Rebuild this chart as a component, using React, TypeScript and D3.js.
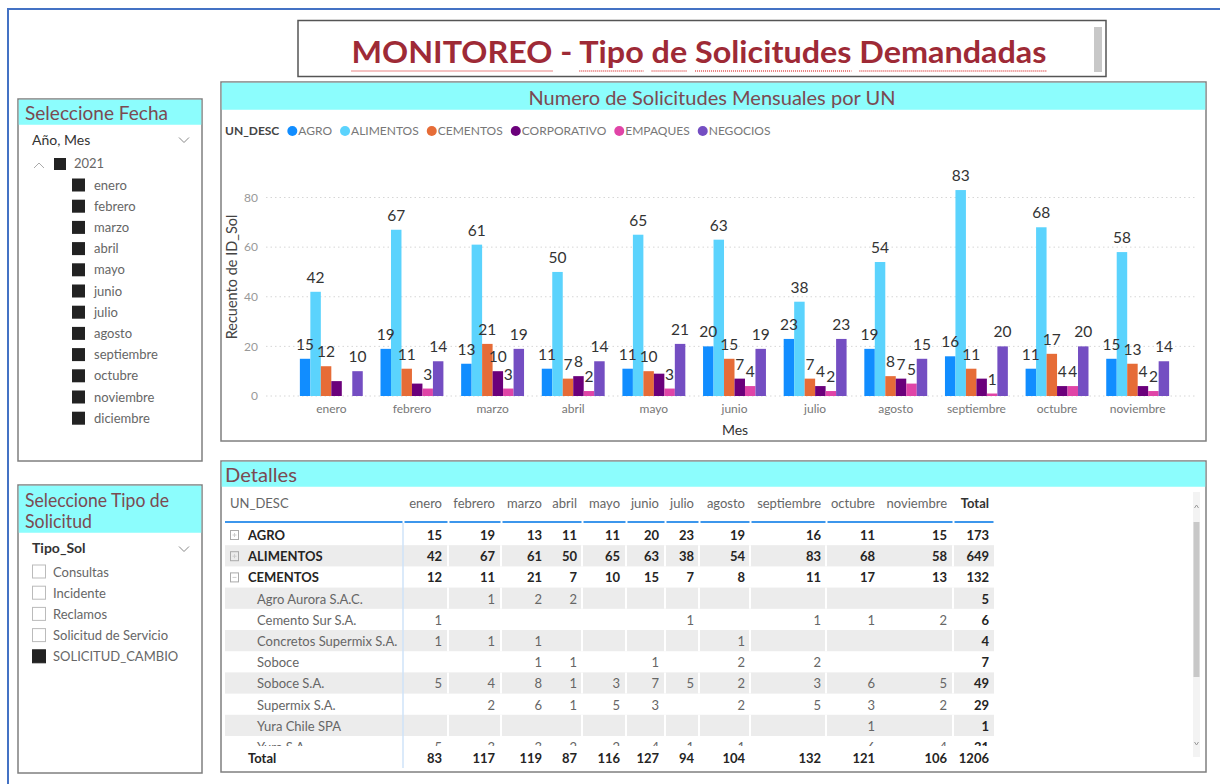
import React, { useEffect, useRef } from 'react'
import * as d3 from 'd3'

// meses del grafico
const months = ['enero', 'febrero', 'marzo', 'abril', 'mayo', 'junio', 'julio', 'agosto', 'septiembre', 'octubre', 'noviembre']
const slicerMonths = [...months, 'diciembre']
const tipoSol = ['Consultas', 'Incidente', 'Reclamos', 'Solicitud de Servicio', 'SOLICITUD_CAMBIO']

const units = ['AGRO', 'ALIMENTOS', 'CEMENTOS', 'CORPORATIVO', 'EMPAQUES', 'NEGOCIOS']
const unitColors = ['#118DFF', '#5BD3FD', '#E66C37', '#6B007B', '#E044A7', '#744EC2']

const agro = [15, 19, 13, 11, 11, 20, 23, 19, 16, 11, 15]
const alimentos = [42, 67, 61, 50, 65, 63, 38, 54, 83, 68, 58]
const cementos = [12, 11, 21, 7, 10, 15, 7, 8, 11, 17, 13]
const corporativo = [6, 5, 10, 8, 9, 7, 4, 7, 7, 4, 4]
const empaques = [0, 3, 3, 2, 3, 4, 2, 5, 1, 4, 2]
const negocios = [10, 14, 19, 14, 21, 19, 23, 15, 20, 20, 14]
const seriesValues = [agro, alimentos, cementos, corporativo, empaques, negocios]

// etiquetas que Power BI oculta por solapamiento
const hiddenLabels = ['CORPORATIVO|enero', 'CORPORATIVO|febrero', 'CORPORATIVO|mayo', 'CORPORATIVO|septiembre']

// tabla de detalles (CEMENTOS expandido)
const clientNames = ['Agro Aurora S.A.C.', 'Cemento Sur S.A.', 'Concretos Supermix S.A.', 'Soboce', 'Soboce S.A.', 'Supermix S.A.', 'Yura Chile SPA', 'Yura S.A.']
const agroAurora = [null, 1, 2, 2, null, null, null, null, null, null, null]
const cementoSur = [1, null, null, null, null, null, 1, null, 1, 1, 2]
const concretosSupermix = [1, 1, 1, null, null, null, null, 1, null, null, null]
const soboce = [null, null, 1, 1, null, 1, null, 2, 2, null, null]
const soboceSA = [5, 4, 8, 1, 3, 7, 5, 2, 3, 6, 5]
const supermixSA = [null, 2, 6, 1, 5, 3, null, 2, 5, 3, 2]
const yuraChile = [null, null, null, null, null, null, null, null, null, 1, null]
const yuraSA = [5, 3, 3, 2, 2, 4, 1, 1, null, 6, 4]
const clientValues = [agroAurora, cementoSur, concretosSupermix, soboce, soboceSA, supermixSA, yuraChile, yuraSA]
const columnTotals = [83, 117, 119, 87, 116, 127, 94, 104, 132, 121, 106]
const grandTotal = 1206

const font = 'Lato, "Segoe UI", sans-serif'
const cyan = '#8CFDFD'
const headColor = '#7B4A52'

const App = () => {
  const svgRef = useRef(null)

  useEffect(() => {
    d3.select(svgRef.current).selectAll('*').remove()
    const svg = d3.select(svgRef.current).attr('width', 1220).attr('height', 784).style('font-family', font)

    svg.append('rect').attr('width', 1220).attr('height', 784).attr('fill', '#fff')

    // marco azul
    svg.append('path').attr('d', 'M8,784 L8,9 L1220,9').attr('fill', 'none').attr('stroke', '#4472C4').attr('stroke-width', 2)

    // titulo
    svg.append('rect').attr('x', 298).attr('y', 20.5).attr('width', 808).attr('height', 56)
      .attr('fill', '#fff').attr('stroke', '#555').attr('stroke-width', 1.5)
    svg.append('rect').attr('x', 1094).attr('y', 27).attr('width', 8).attr('height', 45).attr('fill', '#c8c8c8')
    const title = svg.append('text').attr('x', 699).attr('y', 63).attr('text-anchor', 'middle')
      .attr('font-size', 31).attr('font-weight', 700).attr('fill', '#9E2A36')
      .attr('textLength', 695).attr('lengthAdjust', 'spacingAndGlyphs')
      .text('MONITOREO - Tipo de Solicitudes Demandadas')
    // subrayado del corrector
    const tNode: any = title.node()
    const str = 'MONITOREO - Tipo de Solicitudes Demandadas'
    let idx = 0
    str.split(' ').forEach((w) => {
      if (w !== '-') {
        try {
          const a = tNode.getExtentOfChar(idx)
          const b = tNode.getExtentOfChar(idx + w.length - 1)
          svg.append('line').attr('x1', a.x).attr('x2', b.x + b.width).attr('y1', 71).attr('y2', 71)
            .attr('stroke', '#E25A5A').attr('stroke-width', 1.5).attr('stroke-dasharray', '1,1')
        } catch (e) {}
      }
      idx += w.length + 1
    })

    const panel = (x, y, w, h, hh) => {
      svg.append('rect').attr('x', x).attr('y', y).attr('width', w).attr('height', h)
        .attr('fill', '#fff').attr('stroke', '#7f7f7f').attr('stroke-width', 1.5)
      svg.append('rect').attr('x', x + 0.75).attr('y', y + 0.75).attr('width', w - 1.5).attr('height', hh).attr('fill', cyan)
    }
    const header = (x, y, txt, size, len, anchor = 'start') => {
      svg.append('text').attr('x', x).attr('y', y).attr('font-size', size).attr('fill', headColor)
        .attr('text-anchor', anchor).attr('textLength', len).attr('lengthAdjust', 'spacingAndGlyphs').text(txt)
    }
    const chevron = (x, y) => {
      svg.append('path').attr('d', `M${x - 5},${y - 2.5} L${x},${y + 2.5} L${x + 5},${y - 2.5}`)
        .attr('fill', 'none').attr('stroke', '#888').attr('stroke-width', 1)
    }

    // slicer fecha
    panel(18, 99, 184, 362, 25)
    header(25, 120, 'Seleccione Fecha', 20, 143)
    svg.append('text').attr('x', 32).attr('y', 145).attr('font-size', 14).attr('fill', '#333').text('Año, Mes')
    chevron(184, 140)
    svg.append('path').attr('d', 'M34,168 L39,163 L44,168').attr('fill', 'none').attr('stroke', '#aaa').attr('stroke-width', 1)
    svg.append('rect').attr('x', 54).attr('y', 158).attr('width', 12).attr('height', 12).attr('fill', '#222')
    svg.append('text').attr('x', 74).attr('y', 168).attr('font-size', 13).attr('fill', '#666').text('2021')
    const sm = svg.append('g')
    slicerMonths.forEach((m, i) => {
      const cy = 185 + i * 21.2
      sm.append('rect').attr('x', 72).attr('y', cy - 6.5).attr('width', 13).attr('height', 13).attr('fill', '#222')
      sm.append('text').attr('x', 94).attr('y', cy + 4.5).attr('font-size', 13).attr('fill', '#666').text(m)
    })

    // slicer tipo
    panel(18, 485, 184, 288, 47)
    header(25, 507, 'Seleccione Tipo de', 20, 144)
    header(25, 528, 'Solicitud', 20, 67)
    svg.append('text').attr('x', 32).attr('y', 553).attr('font-size', 14).attr('font-weight', 700).attr('fill', '#333').text('Tipo_Sol')
    chevron(184, 549)
    tipoSol.forEach((t, i) => {
      const cy = 572 + i * 21.2
      const sel = i === tipoSol.length - 1
      svg.append('rect').attr('x', 32.5).attr('y', cy - 7).attr('width', 13).attr('height', 13)
        .attr('fill', sel ? '#222' : '#fff').attr('stroke', sel ? '#222' : '#bbb')
      svg.append('text').attr('x', 53).attr('y', cy + 4.5).attr('font-size', 13).attr('fill', '#666').text(t)
    })

    // grafico de barras
    panel(221, 82, 985, 359, 27)
    header(712, 105, 'Numero de Solicitudes Mensuales por UN', 20, 367, 'middle')

    const leg = svg.append('g').attr('font-size', 12)
    const lt = leg.append('text').attr('x', 225).attr('y', 135).attr('font-weight', 700).attr('fill', '#444').text('UN_DESC')
    let cursor = 225 + (lt.node() as any).getComputedTextLength()
    units.forEach((u, i) => {
      leg.append('circle').attr('cx', cursor + 13).attr('cy', 131).attr('r', 5).attr('fill', unitColors[i])
      const t = leg.append('text').attr('x', cursor + 19).attr('y', 135).attr('fill', '#777').text(u)
      cursor = cursor + 19 + (t.node() as any).getComputedTextLength()
    })

    const x0 = d3.scaleBand().domain(months).range([291, 1178]).paddingInner(0.22).paddingOuter(0.11)
    const x1 = d3.scaleBand().domain(units).range([0, x0.bandwidth()])
    const y = d3.scaleLinear().domain([0, 80]).range([396, 197.5])
    const color = d3.scaleOrdinal().domain(units).range(unitColors)

    svg.append('g').selectAll('line').data(y.ticks(4)).enter().append('line')
      .attr('x1', 266).attr('x2', 1197).attr('y1', (d) => y(d)).attr('y2', (d) => y(d))
      .attr('stroke', '#d6d6d6').attr('stroke-dasharray', '1.5,3')

    const yAxis = svg.append('g').attr('transform', 'translate(262,0)')
      .call(d3.axisLeft(y).ticks(4).tickSize(0).tickPadding(4))
    yAxis.select('.domain').remove()
    yAxis.selectAll('text').attr('fill', '#999').attr('font-size', 12).attr('font-family', font)

    const xAxis = svg.append('g').attr('transform', 'translate(0,396)')
      .call(d3.axisBottom(x0).tickSize(0).tickPadding(8.5))
    xAxis.select('.domain').remove()
    xAxis.selectAll('text').attr('fill', '#777').attr('font-size', 12).attr('font-family', font)

    svg.append('text').attr('x', 735).attr('y', 435).attr('text-anchor', 'middle')
      .attr('font-size', 14).attr('fill', '#333').text('Mes')
    svg.append('text').attr('transform', 'translate(237,277) rotate(-90)').attr('text-anchor', 'middle')
      .attr('font-size', 14.5).attr('fill', '#444').text('Recuento de ID_Sol')

    const bars = []
    months.forEach((m, mi) => {
      units.forEach((u, ui) => {
        bars.push({ month: m, unit: u, value: seriesValues[ui][mi] })
      })
    })

    const groups = svg.append('g')
    groups.selectAll('rect').data(bars).enter().append('rect')
      .attr('x', (d) => x0(d.month) + x1(d.unit))
      .attr('y', (d) => y(d.value))
      .attr('width', x1.bandwidth())
      .attr('height', (d) => y(0) - y(d.value))
      .attr('fill', (d) => color(d.unit))

    groups.selectAll('text').data(bars.filter((d) => d.value > 0 && !hiddenLabels.includes(`${d.unit}|${d.month}`)))
      .enter().append('text')
      .attr('x', (d) => x0(d.month) + x1(d.unit) + x1.bandwidth() / 2)
      .attr('y', (d) => y(d.value) - 9)
      .attr('text-anchor', 'middle').attr('font-size', 15.5).attr('fill', '#333')
      .text((d) => d.value)

    // tabla detalles
    panel(221, 461, 985, 311, 25)
    header(225, 482, 'Detalles', 20, 72)

    const colRight = [442, 495, 542, 577, 620, 659, 694, 745, 821, 875, 947, 989]
    const colSep = [403, 448, 501, 582, 626, 665, 699, 750, 826, 953]
    const tLeft = 225
    const tRight = 994
    const rowTop = 524
    const rowH = 21.2

    const tb = svg.append('g').attr('font-size', 13)
    tb.append('text').attr('x', 230).attr('y', 508).attr('fill', '#666').text('UN_DESC')
    months.forEach((m, i) => {
      tb.append('text').attr('x', colRight[i]).attr('y', 508).attr('text-anchor', 'end').attr('fill', '#666').text(m)
    })
    tb.append('text').attr('x', colRight[11]).attr('y', 508).attr('text-anchor', 'end')
      .attr('font-weight', 700).attr('fill', '#333').text('Total')

    const edges = [tLeft, ...colSep, tRight]
    for (let i = 0; i < edges.length - 1; i++) {
      tb.append('line').attr('x1', edges[i] + (i ? 1.5 : 0)).attr('x2', edges[i + 1] - 0.5)
        .attr('y1', 522).attr('y2', 522).attr('stroke', '#3C96EC').attr('stroke-width', 2)
    }

    const rows = [
      { name: 'AGRO', values: agro, level: 0, icon: 'plus' },
      { name: 'ALIMENTOS', values: alimentos, level: 0, icon: 'plus' },
      { name: 'CEMENTOS', values: cementos, level: 0, icon: 'minus' },
      ...clientNames.map((n, i) => ({ name: n, values: clientValues[i], level: 1, icon: null })),
    ]

    svg.append('clipPath').attr('id', 'bodyClip').append('rect')
      .attr('x', 221).attr('y', rowTop).attr('width', 800).attr('height', 746 - rowTop)
    const body = tb.append('g').attr('clip-path', 'url(#bodyClip)')

    rows.forEach((r, i) => {
      const top = rowTop + i * rowH
      const base = top + 16
      if (i % 2 === 1) {
        body.append('rect').attr('x', tLeft).attr('y', top).attr('width', tRight - tLeft).attr('height', rowH).attr('fill', '#ececec')
        colSep.slice(1).forEach((sx) => {
          body.append('line').attr('x1', sx).attr('x2', sx).attr('y1', top).attr('y2', top + rowH).attr('stroke', '#fff').attr('stroke-width', 2)
        })
      }
      const main = r.level === 0
      if (r.icon) {
        body.append('rect').attr('x', 230.5).attr('y', top + 6.5).attr('width', 8).attr('height', 9)
          .attr('fill', 'none').attr('stroke', '#aaa')
        body.append('line').attr('x1', 232.5).attr('x2', 236.5).attr('y1', top + 11).attr('y2', top + 11).attr('stroke', '#ccc')
        if (r.icon === 'plus') body.append('line').attr('x1', 234.5).attr('x2', 234.5).attr('y1', top + 9).attr('y2', top + 13).attr('stroke', '#ccc')
      }
      body.append('text').attr('x', main ? 248 : 257).attr('y', base)
        .attr('font-weight', main ? 700 : 400).attr('fill', main ? '#252423' : '#666').text(r.name)
      r.values.forEach((v, mi) => {
        if (v == null) return
        body.append('text').attr('x', colRight[mi]).attr('y', base).attr('text-anchor', 'end')
          .attr('font-weight', main ? 700 : 400).attr('fill', main ? '#252423' : '#666').text(v)
      })
      body.append('text').attr('x', colRight[11]).attr('y', base).attr('text-anchor', 'end')
        .attr('font-weight', 700).attr('fill', '#252423').text(d3.sum(r.values))
    })

    // fila total
    tb.append('text').attr('x', 248).attr('y', 763).attr('font-weight', 700).attr('fill', '#252423').text('Total')
    columnTotals.forEach((v, i) => {
      tb.append('text').attr('x', colRight[i]).attr('y', 763).attr('text-anchor', 'end')
        .attr('font-weight', 700).attr('fill', '#252423').text(v)
    })
    tb.append('text').attr('x', colRight[11]).attr('y', 763).attr('text-anchor', 'end')
      .attr('font-weight', 700).attr('fill', '#252423').text(grandTotal)

    tb.append('line').attr('x1', 403).attr('x2', 403).attr('y1', 523).attr('y2', 768).attr('stroke', '#cfe3f8').attr('stroke-width', 1.5)

    // scrollbar
    svg.append('rect').attr('x', 1193).attr('y', 492).attr('width', 7).attr('height', 265).attr('fill', '#f3f3f3')
    svg.append('rect').attr('x', 1193.5).attr('y', 522).attr('width', 6).attr('height', 155).attr('fill', '#c8c8c8')
    svg.append('path').attr('d', 'M1194.5,508 L1196.5,505 L1198.5,508').attr('fill', 'none').attr('stroke', '#999')
    svg.append('path').attr('d', 'M1194.5,742 L1196.5,745 L1198.5,742').attr('fill', 'none').attr('stroke', '#999')
  }, [])

  return (
    <div style={{ position: 'fixed', left: 0, top: 0 }}>
      <svg ref={svgRef}></svg>
    </div>
  )
}

export default App
